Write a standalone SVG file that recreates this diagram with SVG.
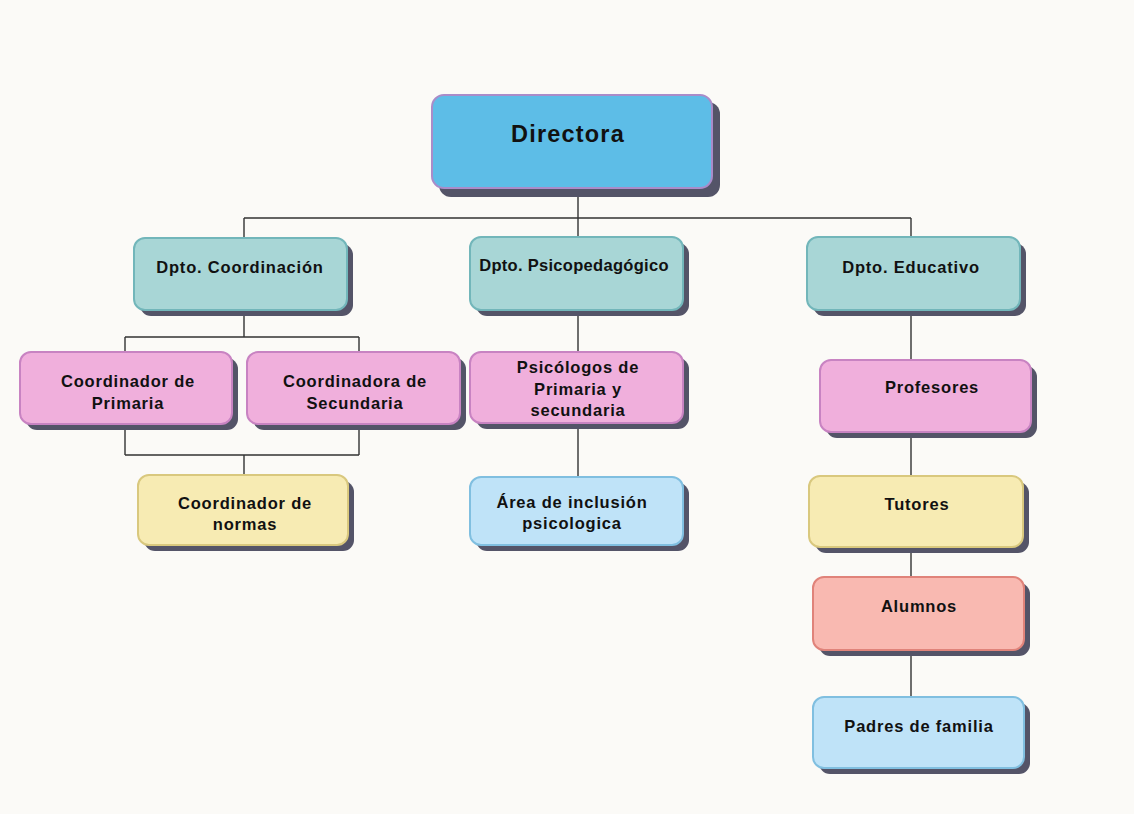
<svg xmlns="http://www.w3.org/2000/svg" width="1134" height="814" viewBox="0 0 1134 814">
<style>
text{font-family:"Liberation Sans",Arial,sans-serif;font-weight:bold;fill:#111;text-anchor:middle}
.t{font-size:16.5px;letter-spacing:0.8px}
.sh{fill:#545468}
.conn{stroke:#333;stroke-width:1.4;fill:none}
.b{stroke-width:2}
.dir{fill:#5dbde7;stroke:#a98cc9}
.teal{fill:#a8d6d6;stroke:#72b6ba}
.pink{fill:#f0afdc;stroke:#c883c2}
.yel{fill:#f7ebb3;stroke:#d9c87e}
.sal{fill:#f9b9b1;stroke:#e0837a}
.blu{fill:#bfe3f8;stroke:#80bfe0}
</style>
<rect width="1134" height="814" fill="#fbfaf7"/>
<g id="connectors" class="conn">
<path d="M578 188V218M244 218H911M244 218V238M578 218V238M911 218V238"/>
<path d="M244 310V337M125 337H359M125 337V352M359 337V352"/>
<path d="M125 424V455M359 424V455M125 455H359M244 455V475"/>
<path d="M578 310V352M578 423V477"/>
<path d="M911 310V360M911 432V476M911 547V577M911 650V697"/>
</g>
<g id="directora">
<rect class="sh" x="439" y="102" width="281" height="95" rx="12"/>
<rect class="b dir" x="432" y="95" width="280" height="93" rx="12"/>
<text x="568" y="142" style="font-size:23.5px;letter-spacing:1.2px">Directora</text>
</g>
<g id="dpto-coordinacion">
<rect class="sh" x="140" y="244" width="213" height="72" rx="11"/>
<rect class="b teal" x="134" y="238" width="213" height="72" rx="11"/>
<text class="t" x="240" y="273">Dpto. Coordinación</text>
</g>
<g id="dpto-psicopedagogico">
<rect class="sh" x="476" y="243" width="213" height="73" rx="11"/>
<rect class="b teal" x="470" y="237" width="213" height="73" rx="11"/>
<text class="t" x="574" y="271" style="letter-spacing:0.3px">Dpto. Psicopedagógico</text>
</g>
<g id="dpto-educativo">
<rect class="sh" x="813" y="243" width="213" height="73" rx="11"/>
<rect class="b teal" x="807" y="237" width="213" height="73" rx="11"/>
<text class="t" x="911" y="273">Dpto. Educativo</text>
</g>
<g id="coord-primaria">
<rect class="sh" x="26" y="358" width="212" height="72" rx="11"/>
<rect class="b pink" x="20" y="352" width="212" height="72" rx="11"/>
<text class="t" x="128" y="387">Coordinador de</text>
<text class="t" x="128" y="409">Primaria</text>
</g>
<g id="coord-secundaria">
<rect class="sh" x="253" y="358" width="213" height="72" rx="11"/>
<rect class="b pink" x="247" y="352" width="213" height="72" rx="11"/>
<text class="t" x="355" y="387">Coordinadora de</text>
<text class="t" x="355" y="409">Secundaria</text>
</g>
<g id="coord-normas">
<rect class="sh" x="144" y="481" width="210" height="70" rx="11"/>
<rect class="b yel" x="138" y="475" width="210" height="70" rx="11"/>
<text class="t" x="245" y="509">Coordinador de</text>
<text class="t" x="245" y="530">normas</text>
</g>
<g id="psicologos">
<rect class="sh" x="476" y="358" width="213" height="71" rx="11"/>
<rect class="b pink" x="470" y="352" width="213" height="71" rx="11"/>
<text class="t" x="578" y="373">Psicólogos de</text>
<text class="t" x="578" y="395">Primaria y</text>
<text class="t" x="578" y="416">secundaria</text>
</g>
<g id="area-inclusion">
<rect class="sh" x="476" y="483" width="213" height="68" rx="11"/>
<rect class="b blu" x="470" y="477" width="213" height="68" rx="11"/>
<text class="t" x="572" y="508">Área de inclusión</text>
<text class="t" x="572" y="529">psicologica</text>
</g>
<g id="profesores">
<rect class="sh" x="826" y="366" width="211" height="72" rx="11"/>
<rect class="b pink" x="820" y="360" width="211" height="72" rx="11"/>
<text class="t" x="932" y="393">Profesores</text>
</g>
<g id="tutores">
<rect class="sh" x="815" y="482" width="214" height="71" rx="11"/>
<rect class="b yel" x="809" y="476" width="214" height="71" rx="11"/>
<text class="t" x="917" y="510">Tutores</text>
</g>
<g id="alumnos">
<rect class="sh" x="819" y="583" width="211" height="73" rx="11"/>
<rect class="b sal" x="813" y="577" width="211" height="73" rx="11"/>
<text class="t" x="919" y="612">Alumnos</text>
</g>
<g id="padres">
<rect class="sh" x="819" y="703" width="211" height="71" rx="11"/>
<rect class="b blu" x="813" y="697" width="211" height="71" rx="11"/>
<text class="t" x="919" y="732">Padres de familia</text>
</g>
</svg>
